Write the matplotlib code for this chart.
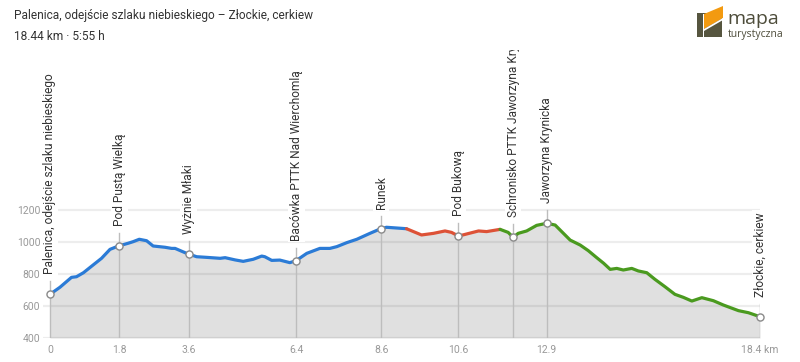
import numpy as np
import matplotlib
matplotlib.use("Agg")
import matplotlib.pyplot as plt
from matplotlib.patches import Polygon, Rectangle
from matplotlib.transforms import Bbox

plt.rcParams["font.family"] = ["Roboto", "DejaVu Sans"]

# elevation profile: km, metres
dist = [0.00, 0.26, 0.56, 0.69, 0.87, 1.12, 1.34, 1.56, 1.78, 2.03, 2.16, 2.32, 2.51, 2.68,
        2.99, 3.16, 3.25, 3.55, 3.81, 4.07, 4.42, 4.55, 4.81, 5.02, 5.28, 5.50, 5.58, 5.76,
        5.97, 6.23, 6.39, 6.67, 7.01, 7.27, 7.45, 7.71, 7.97, 8.31, 8.57, 8.74, 9.09, 9.26,
        9.65, 9.96, 10.26, 10.43, 10.61, 10.82, 11.13, 11.34, 11.69,
        11.90, 12.03, 12.16, 12.38, 12.64, 12.90, 13.12, 13.29, 13.51, 13.77, 13.98, 14.20,
        14.38, 14.55, 14.72, 14.89, 15.11, 15.28, 15.50, 15.71, 15.97, 16.23, 16.45, 16.67,
        16.93, 17.23, 17.49, 17.88, 18.14, 18.44]
elev = [673, 717, 779, 783, 808, 856, 898, 954, 975, 992, 1002, 1017, 1008, 975,
        967, 960, 960, 929, 908, 904, 898, 902, 888, 879, 892, 912, 908, 885,
        887, 871, 883, 929, 960, 960, 971, 996, 1017, 1054, 1081, 1092, 1086, 1083,
        1044, 1054, 1069, 1060, 1037, 1050, 1069, 1065, 1079,
        1060, 1029, 1054, 1069, 1104, 1117, 1106, 1065, 1012, 981, 946, 902,
        867, 829, 835, 825, 835, 819, 808, 767, 721, 673, 654, 631,
        652, 633, 606, 571, 558, 533]

# trail colour changes (km)
seg_breaks = [9.26, 11.69]
seg_colors = ["#2b7bd6", "#dd5237", "#4a9a1f"]

wp_names = ["Palenica, odejście szlaku niebieskiego", "Pod Pustą Wielką", "Wyżnie Młaki",
            "Bacówka PTTK Nad Wierchomlą", "Runek", "Pod Bukową",
            "Schronisko PTTK Jaworzyna Krynicka", "Jaworzyna Krynicka", "Złockie, cerkiew"]
wp_km = [0.0, 1.8, 3.6, 6.4, 8.6, 10.6, 12.03, 12.9, 18.44]
wp_elev = [673, 975, 925, 883, 1081, 1037, 1029, 1117, 533]

xticks = [0, 1.8, 3.6, 6.4, 8.6, 10.6, 12.9, 18.44]
xtick_labels = ["0", "1.8", "3.6", "6.4", "8.6", "10.6", "12.9", "18.4 km"]
yticks = [400, 600, 800, 1000, 1200]

W, H = 800, 362
fig = plt.figure(figsize=(W / 100, H / 100), dpi=100)
ax = fig.add_axes([43 / W, 24 / H, 717 / W, 288 / H])
ax.set_xlim(-0.18, 18.44)
ax.set_ylim(400, 2200)
for s in ax.spines.values():
    s.set_visible(False)

d = np.array(dist)
e = np.array(elev)
ax.fill_between(d, 400, e, color="#e0e0e0", lw=0, zorder=1)
for yv in yticks:
    ax.axhline(yv, color="black", alpha=0.07, lw=1.6, zorder=2)

edges = [0] + [int(np.argmin(np.abs(d - b))) for b in seg_breaks] + [len(d) - 1]
for i, c in enumerate(seg_colors):
    a, b = edges[i], edges[i + 1]
    ax.plot(d[a:b + 1], e[a:b + 1], color=c, lw=2.3, solid_capstyle="round", zorder=4)

# labels are cut at the top of the chart area only (y = 50 px from top)
top_clip = Bbox([[0, 0], [W, H - 50]])
px_m = 1800 / 288  # metres per pixel
for name, k, h in zip(wp_names, wp_km, wp_elev):
    ax.plot([k, k], [400, h + 13 * px_m], color="#bdbdbd", lw=1, zorder=3)
    t = ax.annotate(name, (k, h), xytext=(0, 14.5), textcoords="offset points",
                    rotation=90, ha="center", va="bottom", fontsize=8.6, color="#333333",
                    bbox=dict(boxstyle="square,pad=0.15", fc="white", ec="none"),
                    annotation_clip=False, zorder=5)
    t.set_clip_on(True)
    t.set_clip_box(top_clip)
ax.scatter(wp_km, wp_elev, s=26, facecolor="white", edgecolor="#8a8a8a", lw=1, zorder=6,
           clip_on=False)

ax.set_yticks(yticks)
ax.set_xticks(xticks)
ax.set_xticklabels(xtick_labels)
ax.tick_params(length=0, labelsize=7.5, labelcolor="#999999")
ax.tick_params(axis="y", pad=2)
ax.tick_params(axis="x", pad=5)

fig.text(14 / W, 1 - 15 / H, "Palenica, odejście szlaku niebieskiego – Złockie, cerkiew",
         fontsize=8.6, color="#333333", va="center")
fig.text(14 / W, 1 - 36 / H, "18.44 km · 5:55 h", fontsize=8.6, color="#333333", va="center")

# logo
def fp(x, y):
    return (x / W, 1 - y / H)

fig.patches.append(Rectangle(fp(697, 37), 25 / W, 24 / H, transform=fig.transFigure,
                             fc="#56553f", ec="none"))
fig.patches.append(Polygon([fp(704, 14), fp(723, 6), fp(723, 18), fp(704, 29)],
                           transform=fig.transFigure, fc="#f39a10", ec="none"))
fig.patches.append(Polygon([fp(704, 29), fp(723, 18), fp(723, 20), fp(704, 31)],
                           transform=fig.transFigure, fc="white", ec="none"))
fig.patches.append(Rectangle(fp(702.5, 37), 1.2 / W, 23 / H, transform=fig.transFigure,
                             fc="white", ec="none"))
fig.text(727 / W, 1 - 19.5 / H, "mapa", fontsize=14, color="#4d4c3a", va="center",
         family="Open Sans")
fig.text(728 / W, 1 - 34.5 / H, "turystyczna", fontsize=7.5, color="#4d4c3a", va="center",
         family="Open Sans")

fig.savefig("out.png", dpi=100)
